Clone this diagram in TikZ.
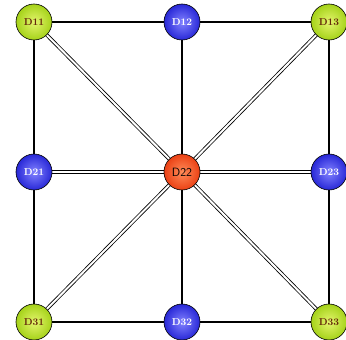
\documentclass[tikz,border=0pt]{standalone}
\definecolor{gin}{RGB}{228,245,110}
\definecolor{gout}{RGB}{165,210,25}
\definecolor{gtxt}{RGB}{100,40,10}
\definecolor{bin}{RGB}{130,130,255}
\definecolor{bout}{RGB}{40,40,215}
\definecolor{rin}{RGB}{255,140,90}
\definecolor{rout}{RGB}{235,65,20}
\begin{document}
\begin{tikzpicture}[x=1pt,y=-1pt,
  ballbase/.style={circle,draw=black,line width=0.6pt,minimum size=36pt,inner sep=0pt,font=\bfseries\normalsize},
  ballg/.style={ballbase,inner color=gin,outer color=gout,text=gtxt},
  ballb/.style={ballbase,inner color=bin,outer color=bout,text=white},
  ballr/.style={ballbase,inner color=rin,outer color=rout,text=black,font=\sffamily\large},
  solidedge/.style={draw=black,line width=2.2pt},
  dbledge/.style={draw=black,line width=0.8pt,double=white,double distance=2pt}]
\useasboundingbox (0,0) rectangle (346,340);
\fill[white] (0,0) rectangle (346,340);
\coordinate (p11) at (34,22);  \coordinate (p12) at (182,22);  \coordinate (p13) at (329,22);
\coordinate (p21) at (34,172); \coordinate (p22) at (182,172); \coordinate (p23) at (329,172);
\coordinate (p31) at (34,322); \coordinate (p32) at (182,322); \coordinate (p33) at (329,322);
% edges
\draw[solidedge] (p11) -- (p12) -- (p13) -- (p23) -- (p33) -- (p32) -- (p31) -- (p21) -- (p11);
\draw[solidedge] (p12) -- (p22) -- (p32);
\draw[dbledge] (p21) -- (p22);
\draw[dbledge] (p22) -- (p23);
\draw[dbledge] (p22) -- (p11);
\draw[dbledge] (p22) -- (p13);
\draw[dbledge] (p22) -- (p31);
\draw[dbledge] (p22) -- (p33);
% nodes
\node[ballg] (D11) at (p11) {D11};
\node[ballb] (D12) at (p12) {D12};
\node[ballg] (D13) at (p13) {D13};
\node[ballb] (D21) at (p21) {D21};
\node[ballr] (D22) at (p22) {D22};
\node[ballb] (D23) at (p23) {D23};
\node[ballg] (D31) at (p31) {D31};
\node[ballb] (D32) at (p32) {D32};
\node[ballg] (D33) at (p33) {D33};
\end{tikzpicture}
\end{document}
